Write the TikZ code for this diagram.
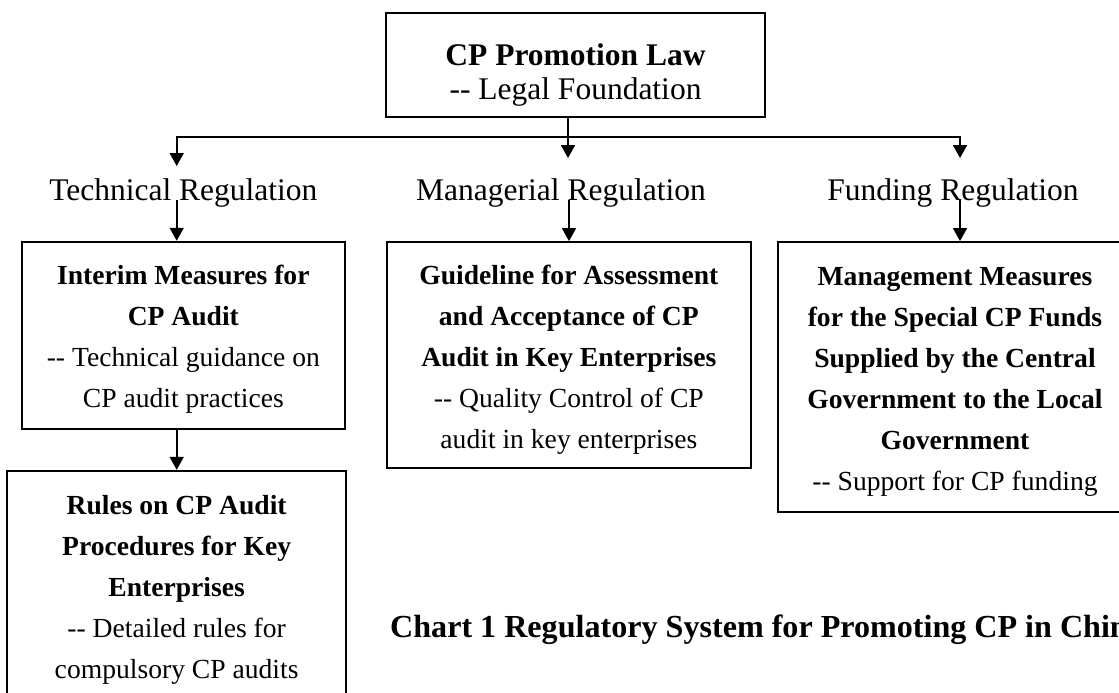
\documentclass[tikz,border=0pt]{standalone}
\usepackage{fontspec}
\setmainfont{Liberation Serif}[Ligatures=TeXOff]
\usetikzlibrary{arrows.meta}
\newcommand\firstln{\rule{0pt}{28pt}}
\begin{document}
\begin{tikzpicture}[x=1pt,y=-1pt,
  box/.style={draw, line width=1.8pt, inner sep=0pt, align=center,
    font=\fontsize{27.6}{41}\selectfont},
  con/.style={line width=1.8pt},
  arr/.style={con, -{Triangle[length=13pt,width=14pt]}},
  arrboth/.style={con, {Triangle[length=13pt,width=14pt]}-{Triangle[length=13pt,width=14pt]}},
  lab/.style={inner sep=0pt, anchor=base, font=\fontsize{31.5}{34}\selectfont},
  caption/.style={inner sep=0pt, anchor=base west, font=\bfseries\fontsize{32.1}{35}\selectfont}]
\useasboundingbox (0,0) rectangle (1119,693);
\clip (0,0) rectangle (1119,693);

% top box
\node[box, minimum width=379pt, minimum height=104pt, font=\fontsize{31.5}{34}\selectfont]
  (law) at (575.5,65) {\textbf{\rule{0pt}{41pt}CP Promotion Law}\\-- Legal Foundation};

% category labels
\node[lab] (tech) at (183.3,200) {Technical Regulation};
\node[lab] (man)  at (561,200) {Managerial Regulation};
\node[lab] (fund) at (953,200) {Funding Regulation};

% boxes
\node[box, minimum width=323.3pt, minimum height=187.3pt] (interim) at (183.35,335.35)
  {\textbf{\firstln Interim Measures for}\\\textbf{CP Audit}\\-- Technical guidance on\\CP audit practices};
\node[box, minimum width=364.3pt, minimum height=226pt] (guide) at (568.85,355)
  {\textbf{\firstln Guideline for Assessment}\\\textbf{and Acceptance of CP}\\\textbf{Audit in Key Enterprises}\\-- Quality Control of CP\\audit in key enterprises};
\node[box, minimum width=354pt, minimum height=270pt] (mgmt) at (955,377)
  {\textbf{\firstln Management Measures}\\\textbf{for the Special CP Funds}\\\textbf{Supplied by the Central}\\\textbf{Government to the Local}\\\textbf{Government}\\-- Support for CP funding};
\node[box, minimum width=338.7pt, minimum height=228.6pt] (rules) at (176.65,585)
  {\textbf{\firstln Rules on CP Audit}\\\textbf{Procedures for Key}\\\textbf{Enterprises}\\-- Detailed rules for\\compulsory CP audits};

% caption
\node[caption] (cap) at (390,637) {Chart 1 Regulatory System for Promoting CP in China};

% connectors
\coordinate (jm) at (568,137);
\coordinate (jl) at (176.7,137);
\coordinate (jr) at (960,137);
\coordinate (tl) at (176.7,166);
\coordinate (tm) at (568,158);
\coordinate (tr) at (960,158);
\draw[arr] (law.south -| jm) -- (tm);
\draw[arrboth] (tl) -- (jl) -- (jr) -- (tr);

\coordinate (s1) at (176.7,200);
\coordinate (s2) at (569,200);
\coordinate (s3) at (960,200);
\draw[arr] (s1) -- (s1 |- interim.north);
\draw[arr] (s2) -- (s2 |- guide.north);
\draw[arr] (s3) -- (s3 |- mgmt.north);
\draw[arr] (interim.south -| s1) -- (s1 |- rules.north);
\end{tikzpicture}
\end{document}
